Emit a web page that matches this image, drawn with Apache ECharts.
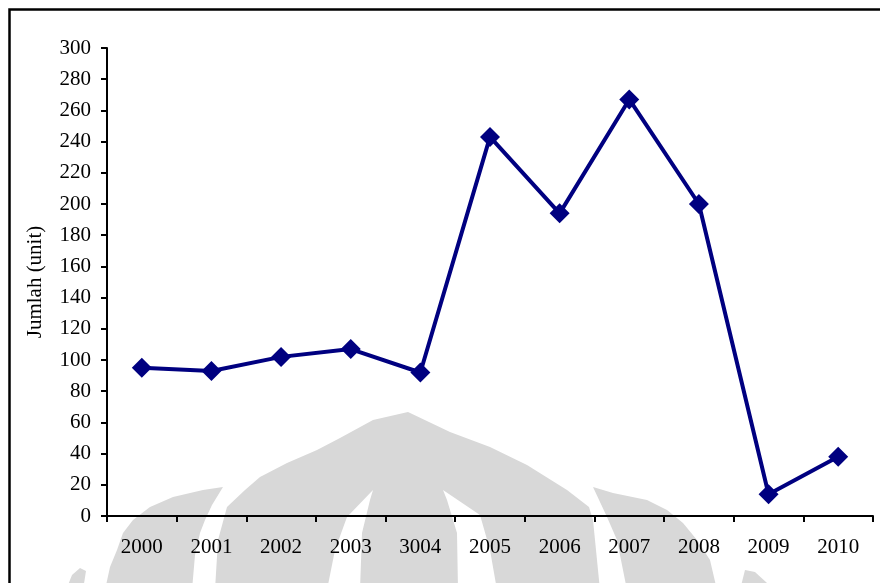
<!DOCTYPE html>
<html>
<head>
<meta charset="utf-8">
<script src="https://cdn.jsdelivr.net/npm/echarts@6/dist/echarts.min.js"></script>
<style>
  html, body { margin: 0; padding: 0; background: #fff; }
  #chart { width: 880px; height: 583px; }
</style>
</head>
<body>
<div id="chart"></div>
<script>
// Annual counts (units)
const years = ['2000', '2001', '2002', '2003', '3004', '2005', '2006', '2007', '2008', '2009', '2010'];
const jumlah = [95, 93, 102, 107, 92, 243, 194, 267, 200, 14, 38];
const yMin = 0;
const yMax = 300;
const yStep = 20;
const yTitle = 'Jumlah (unit)';

const FONT = '"Liberation Serif", "Times New Roman", serif';
const WM = '#d8d8d8';

// Faint background emblem drawn behind the plot
function poly(points, fill) {
  return { type: 'polygon', z: -10, silent: true, shape: { points: points }, style: { fill: fill } };
}
const emblem = [
  // central dome
  poly([[215,590],[218,540],[227,507],[245,490],[260,477],[287,463],[317,450],[340,438],[373,420],[408,412],
        [450,432],[490,447],[527,465],[567,490],[589,507],[593,520],[600,590]], WM),
  // slits splitting the dome into legs and a pillar
  poly([[327,590],[335,550],[347,517],[373,490],[370,500],[362,533],[360,590]], '#fff'),
  poly([[443,490],[480,515],[490,550],[497,590],[458,590],[457,533],[447,500]], '#fff'),
  // left petal
  poly([[105,590],[110,567],[117,550],[123,533],[133,520],[150,507],[173,497],[203,490],[223,487],
        [212,505],[205,520],[200,533],[195,555],[192,590]], WM),
  // right petal
  poly([[593,487],[613,493],[647,500],[667,510],[683,523],[697,540],[710,560],[717,590],
        [627,590],[617,540],[607,517]], WM),
  // outer fragments
  poly([[66,590],[72,575],[80,568],[86,571],[83,590]], WM),
  poly([[740,590],[745,570],[755,572],[767,583],[770,590]], WM)
];

const chart = echarts.init(document.getElementById('chart'), null, { renderer: 'canvas' });
chart.setOption({
  backgroundColor: '#fff',
  animation: false,
  textStyle: { fontFamily: FONT },
  grid: { left: 107, right: 7, top: 48, bottom: 67, containLabel: false },
  graphic: emblem.concat([
    {
      type: 'rect', z: 100, silent: true,
      shape: { x: 9.5, y: 9.5, width: 900, height: 600 },
      style: { fill: 'none', stroke: '#000', lineWidth: 2.5 }
    }
  ]),
  xAxis: {
    type: 'category',
    data: years,
    boundaryGap: true,
    axisLine: { lineStyle: { color: '#000', width: 2 } },
    axisTick: { show: true, interval: 0, alignWithLabel: false, length: 6, lineStyle: { color: '#000', width: 2 } },
    axisLabel: { interval: 0, margin: 21, color: '#000', fontFamily: FONT, fontSize: 21 },
    splitLine: { show: false }
  },
  yAxis: {
    type: 'value',
    min: yMin,
    max: yMax,
    interval: yStep,
    name: yTitle,
    nameLocation: 'middle',
    nameGap: 61,
    nameRotate: 90,
    nameTextStyle: { color: '#000', fontFamily: FONT, fontSize: 21 },
    axisLine: { show: true, lineStyle: { color: '#000', width: 2 } },
    axisTick: { show: true, length: 6, lineStyle: { color: '#000', width: 2 } },
    axisLabel: { margin: 16, color: '#000', fontFamily: FONT, fontSize: 21 },
    splitLine: { show: false }
  },
  series: [{
    type: 'line',
    data: jumlah,
    symbol: 'diamond',
    symbolSize: 20,
    lineStyle: { color: '#000080', width: 4 },
    itemStyle: { color: '#000080' },
    z: 3
  }]
});
</script>
</body>
</html>
